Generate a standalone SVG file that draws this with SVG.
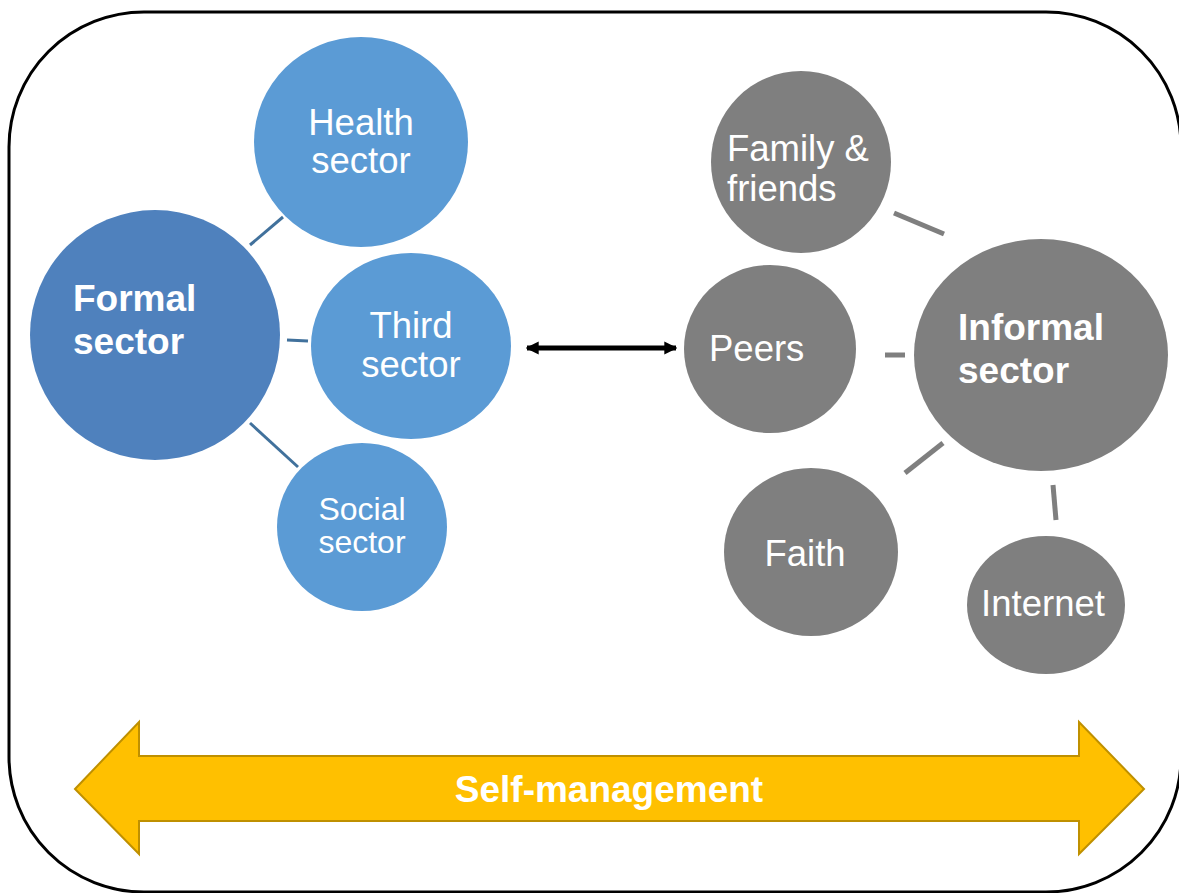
<svg xmlns="http://www.w3.org/2000/svg" width="1179" height="893" viewBox="0 0 1179 893">
<style>
text{font-family:"Liberation Sans",Arial,sans-serif;fill:#fff}
.b{font-weight:bold;font-size:37px}
.n{font-size:36.5px}
.blue{fill:#5B9BD5}
.gray{fill:#7F7F7F}
.lb{stroke:#41719C;stroke-width:3}
.lg{stroke:#7F7F7F;stroke-width:5}
</style>
<defs>
<marker id="ah" viewBox="0 0 10 10" refX="9" refY="5" markerWidth="2.6" markerHeight="3" orient="auto-start-reverse">
<path d="M0,0 L10,5 L0,10 z" fill="#000"/>
</marker>
</defs>
<rect x="9" y="12" width="1172" height="880" rx="135" ry="135" fill="#fff" stroke="#000" stroke-width="3"/>
<g id="connectors">
<line class="lb" x1="250" y1="245" x2="283" y2="217"/>
<line class="lb" x1="287" y1="340" x2="308" y2="341"/>
<line class="lb" x1="250" y1="423" x2="298" y2="467"/>
<line class="lg" x1="894" y1="213" x2="944" y2="234"/>
<line class="lg" x1="885" y1="355" x2="905" y2="355"/>
<line class="lg" x1="905" y1="473" x2="943" y2="443"/>
<line class="lg" x1="1053" y1="485" x2="1056" y2="520"/>
<line x1="527" y1="348" x2="676" y2="348" stroke="#000" stroke-width="5" marker-start="url(#ah)" marker-end="url(#ah)"/>
</g>
<g id="formal">
<circle cx="155" cy="335" r="125" fill="#4F81BD"/>
<text class="b" x="73" y="311">Formal</text>
<text class="b" x="73" y="354">sector</text>
</g>
<g id="health">
<ellipse class="blue" cx="361" cy="142" rx="107" ry="105"/>
<text class="n" x="361" y="135" text-anchor="middle">Health</text>
<text class="n" x="361" y="173" text-anchor="middle">sector</text>
</g>
<g id="third">
<ellipse class="blue" cx="411" cy="346" rx="100" ry="93"/>
<text class="n" x="411" y="338" text-anchor="middle">Third</text>
<text class="n" x="411" y="377" text-anchor="middle">sector</text>
</g>
<g id="social">
<ellipse class="blue" cx="362" cy="527" rx="85" ry="84"/>
<text x="362" y="520" text-anchor="middle" font-size="32">Social</text>
<text x="362" y="553" text-anchor="middle" font-size="32">sector</text>
</g>
<g id="family">
<ellipse class="gray" cx="801" cy="162" rx="90" ry="91"/>
<text class="n" x="727" y="161">Family &amp;</text>
<text class="n" x="727" y="201">friends</text>
</g>
<g id="peers">
<ellipse class="gray" cx="770" cy="349" rx="86" ry="84"/>
<text class="n" x="709" y="361">Peers</text>
</g>
<g id="informal">
<ellipse class="gray" cx="1041" cy="355" rx="127" ry="116"/>
<text class="b" x="958" y="340">Informal</text>
<text class="b" x="958" y="383">sector</text>
</g>
<g id="faith">
<ellipse class="gray" cx="811" cy="552" rx="87" ry="84"/>
<text class="n" x="805" y="566" text-anchor="middle">Faith</text>
</g>
<g id="internet">
<ellipse class="gray" cx="1046" cy="605" rx="79" ry="69"/>
<text class="n" x="1043" y="616" text-anchor="middle">Internet</text>
</g>
<g id="self-management">
<polygon points="75,789 139,722 139,756 1079,756 1079,722 1144,789 1079,854 1079,821 139,821 139,854" fill="#FFC000" stroke="#BF9000" stroke-width="2"/>
<text x="609" y="802" text-anchor="middle" font-weight="bold" font-size="37">Self-management</text>
</g>
</svg>
